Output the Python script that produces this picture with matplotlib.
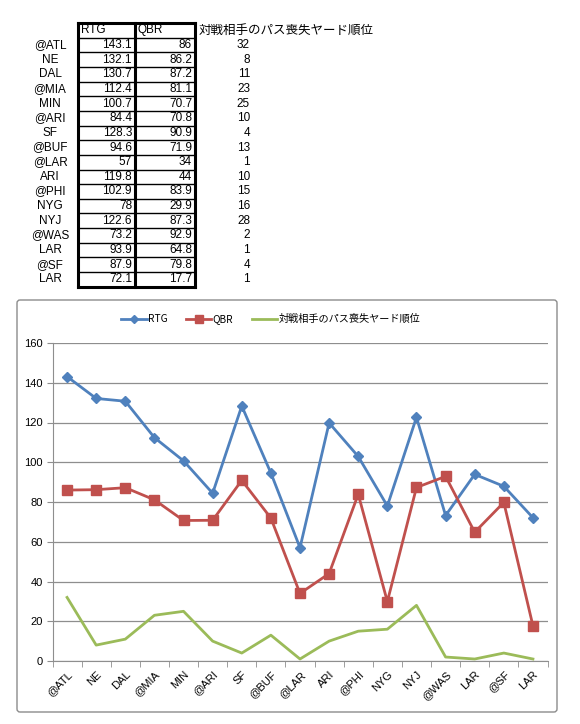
import matplotlib.pyplot as plt
from matplotlib.patches import FancyBboxPatch

plt.rcParams['font.family'] = ['Noto Sans CJK JP', 'DejaVu Sans']

# game data
games = ["@ATL", "NE", "DAL", "@MIA", "MIN", "@ARI", "SF", "@BUF", "@LAR",
         "ARI", "@PHI", "NYG", "NYJ", "@WAS", "LAR", "@SF", "LAR"]
rtg = [143.1, 132.1, 130.7, 112.4, 100.7, 84.4, 128.3, 94.6, 57,
       119.8, 102.9, 78, 122.6, 73.2, 93.9, 87.9, 72.1]
qbr = [86, 86.2, 87.2, 81.1, 70.7, 70.8, 90.9, 71.9, 34,
       44, 83.9, 29.9, 87.3, 92.9, 64.8, 79.8, 17.7]
rank = [32, 8, 11, 23, 25, 10, 4, 13, 1, 10, 15, 16, 28, 2, 1, 4, 1]
rank_label = "対戦相手のパス喪失ヤード順位"

blue = "#4F81BD"
red = "#C0504D"
green = "#9BBB59"
grid_c = "#8E8E8E"
num_font = ["Liberation Sans"]

W, H = 580, 724
fig = plt.figure(figsize=(W / 100, H / 100), dpi=100)

# background layer in pixel coordinates for table and chart frame
bg = fig.add_axes([0, 0, 1, 1])
bg.set_xlim(0, W)
bg.set_ylim(H, 0)
bg.axis("off")

# ---- table ----
top = 23
row_h = 14.65
x_l, x_m, x_r = 78, 135, 195
n = len(games)
bottom = top + row_h * (n + 1)

bg.text(x_l + 3, top + row_h / 2, "RTG", fontsize=8.5, va="center", ha="left", family=num_font)
bg.text(x_m + 3, top + row_h / 2, "QBR", fontsize=8.5, va="center", ha="left", family=num_font)
bg.text(x_r + 4, top + row_h / 2, rank_label, fontsize=9, va="center", ha="left")

for i in range(n):
    yc = top + row_h * (i + 1.5)
    bg.text(50, yc, games[i], fontsize=8.5, va="center", ha="center", family=num_font)
    bg.text(x_m - 3, yc, f"{rtg[i]:g}", fontsize=8.5, va="center", ha="right", family=num_font)
    bg.text(x_r - 3, yc, f"{qbr[i]:g}", fontsize=8.5, va="center", ha="right", family=num_font)
    bg.text(250, yc, str(rank[i]), fontsize=8.5, va="center", ha="right", family=num_font)
    bg.plot([x_l, x_r], [top + row_h * (i + 1)] * 2, color="black", lw=1)

for xv in (x_l, x_m, x_r):
    bg.plot([xv, xv], [top, bottom], color="black", lw=2.2)
bg.plot([x_l, x_r], [top, top], color="black", lw=2.2)
bg.plot([x_l, x_r], [bottom, bottom], color="black", lw=2.2)

# ---- chart frame ----
bg.add_patch(FancyBboxPatch((17, 300), 540, 412, boxstyle="round,pad=0,rounding_size=3",
                            fc="white", ec="#8C8C8C", lw=1))

# ---- chart ----
ax = fig.add_axes([52.5 / W, 1 - 661 / H, 495 / W, 318 / H])
x = list(range(n))
ax.plot(x, rtg, color=blue, lw=2, marker="D", ms=5, label="RTG")
ax.plot(x, qbr, color=red, lw=2, marker="s", ms=6.5, label="QBR")
ax.plot(x, rank, color=green, lw=2, label=rank_label)

ax.set_xlim(-0.5, n - 0.5)
ax.set_ylim(0, 160)
ax.set_yticks(range(0, 161, 20))
ax.yaxis.grid(True, color=grid_c, lw=0.9)
ax.set_axisbelow(True)
ax.set_xticks(x)
ax.set_xticklabels(games, rotation=45, ha="right", rotation_mode="anchor",
                   fontsize=8, family=num_font)
ax.set_xticks([i - 0.5 for i in range(n + 1)], minor=True)
ax.tick_params(axis="x", which="major", length=0, pad=6)
ax.tick_params(axis="x", which="minor", length=4, direction="out", color=grid_c)
ax.tick_params(axis="y", length=4, direction="out", color=grid_c, labelsize=8, pad=3)
for lab in ax.get_yticklabels():
    lab.set_family(num_font)
for s in ("top", "right"):
    ax.spines[s].set_visible(False)
for s in ("left", "bottom"):
    ax.spines[s].set_color(grid_c)

leg = ax.legend(loc="center", bbox_to_anchor=(0.441, 1.075), ncol=3, frameon=False,
                fontsize=7.3, handlelength=2.5, columnspacing=1.8, handletextpad=0.15,
                markerscale=0.8)

fig.savefig("out.png", dpi=100)
